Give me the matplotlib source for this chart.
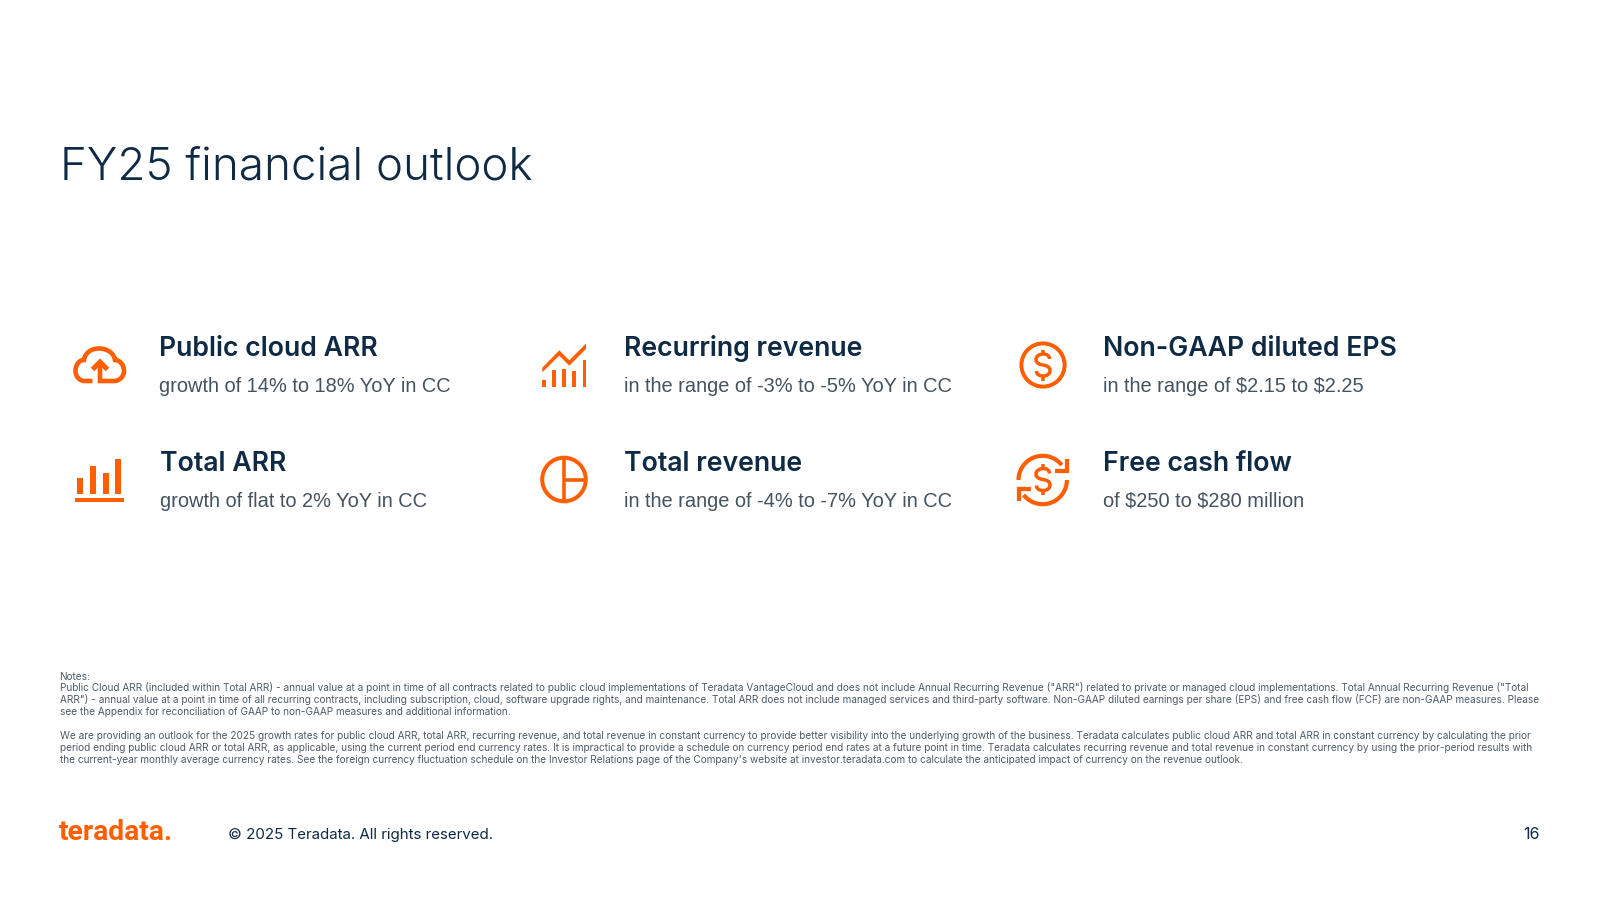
import numpy as np
import matplotlib
matplotlib.use("Agg")
import matplotlib.pyplot as plt
from matplotlib.path import Path
from matplotlib.patches import PathPatch, Rectangle, Circle, Polygon

plt.rcParams['font.family'] = ['Inter', 'DejaVu Sans']
plt.rcParams['text.parse_math'] = False

slide_title = "FY25 financial outlook"
metric_names = ["Public cloud ARR", "Recurring revenue", "Non-GAAP diluted EPS",
                "Total ARR", "Total revenue", "Free cash flow"]
metric_details = ["growth of 14% to 18% YoY in CC", "in the range of -3% to -5% YoY in CC",
                  "in the range of $2.15 to $2.25", "growth of flat to 2% YoY in CC",
                  "in the range of -4% to -7% YoY in CC", "of $250 to $280 million"]
notes = [
    "Notes:",
    "Public Cloud ARR (included within Total ARR) - annual value at a point in time of all contracts related to public cloud implementations of Teradata VantageCloud and does not include Annual Recurring Revenue (\"ARR\") related to private or managed cloud implementations. Total Annual Recurring Revenue (\"Total",
    "ARR\") - annual value at a point in time of all recurring contracts, including subscription, cloud, software upgrade rights, and maintenance. Total ARR does not include managed services and third-party software. Non-GAAP diluted earnings per share (EPS) and free cash flow (FCF) are non-GAAP measures. Please",
    "see the Appendix for reconciliation of GAAP to non-GAAP measures and additional information.",
    "",
    "We are providing an outlook for the 2025 growth rates for public cloud ARR, total ARR, recurring revenue, and total revenue in constant currency to provide better visibility into the underlying growth of the business. Teradata calculates public cloud ARR and total ARR in constant currency by calculating the prior",
    "period ending public cloud ARR or total ARR, as applicable, using the current period end currency rates. It is impractical to provide a schedule on currency period end rates at a future point in time. Teradata calculates recurring revenue and total revenue in constant currency by using the prior-period results with",
    "the current-year monthly average currency rates. See the foreign currency fluctuation schedule on the Investor Relations page of the Company's website at investor.teradata.com to calculate the anticipated impact of currency on the revenue outlook.",
]
logo_text = "teradata."
footer_text = "\u00a9 2025 Teradata. All rights reserved."
page_number = "16"

ORANGE = "#FF5F02"
NAVY = "#0E2A44"
GREY = "#44535F"
NOTE = "#4C5C6A"
PX = 0.72  # points per pixel at dpi 100

fig = plt.figure(figsize=(16, 9), dpi=100, facecolor="white")
ax = fig.add_axes([0, 0, 1, 1])
ax.set_xlim(0, 1600)
ax.set_ylim(900, 0)
ax.axis("off")

ax.text(60, 179.5, slide_title, fontsize=32.95, fontweight=300, color=NAVY, va="baseline")

name_x = [159, 624, 1103, 160, 624, 1103]
name_y = [356, 356, 356, 471, 471, 471]
detail_y = [392, 392, 392, 507, 507, 507]
for n, d, x, y1, y2 in zip(metric_names, metric_details, name_x, name_y, detail_y):
    ax.text(x, y1, n, fontsize=19.2, fontweight=600, color=NAVY, va="baseline")
    ax.text(x, y2, d, fontsize=14.4, color=GREY, va="baseline", family=["Liberation Sans"])

note_y = [679.5, 691, 703, 715, None, 739, 751, 763]
for line, y in zip(notes, note_y):
    if line:
        ax.text(59.5, y, line, fontsize=7.22, color=NOTE, va="baseline")

ax.text(59, 839.5, logo_text, fontsize=20.3, fontweight=700, color=ORANGE, va="baseline", family=["Roboto"])
ax.text(228.5, 839, footer_text, fontsize=10.85, color=NAVY, va="baseline")
ax.text(1540, 839, page_number, fontsize=11.5, color=NAVY, va="baseline", ha="right")


def stroke(verts, codes=None, lw=4.0, cap="butt", join="miter"):
    ax.add_patch(PathPatch(Path(verts, codes), fc="none", ec=ORANGE, lw=lw * PX,
                           capstyle=cap, joinstyle=join))


def curve_path(start, segs):
    v, c = [start], [Path.MOVETO]
    for s in segs:
        if len(s) == 1:
            v += s
            c += [Path.LINETO]
        else:
            v += s
            c += [Path.CURVE4] * 3
    return v, c


def ring(cx, cy, r, lw=4.0):
    ax.add_patch(Circle((cx, cy), r, fc="none", ec=ORANGE, lw=lw * PX))


def dollar(cx, cy, lw=3.5):
    segs = [[(cx + 6.5, cy - 9.5), (cx + 3.5, cy - 11), (cx + 0.5, cy - 11)],
            [(cx - 4, cy - 11), (cx - 7, cy - 8.5), (cx - 7, cy - 5.5)],
            [(cx - 7, cy - 1.5), (cx - 3, cy - 0.5), (cx, cy)],
            [(cx + 3, cy + 0.5), (cx + 7, cy + 1.5), (cx + 7, cy + 5.5)],
            [(cx + 7, cy + 9), (cx + 4, cy + 11), (cx, cy + 11)],
            [(cx - 3.5, cy + 11), (cx - 6.5, cy + 9.5), (cx - 6.5, cy + 6)]]
    v, c = curve_path((cx + 6.5, cy - 6), segs)
    stroke(v, c, lw=lw)
    stroke([(cx, cy - 15.5), (cx, cy - 10.5)], lw=lw)
    stroke([(cx, cy + 10.5), (cx, cy + 15.5)], lw=lw)


# cloud upload icon
v, c = curve_path((92.5, 381), [
    [(85, 381)],
    [(79, 381), (75.5, 376), (75.5, 371)],
    [(75.5, 365), (79, 360), (84, 360)],
    [(85, 353), (91, 348.5), (99, 348.5)],
    [(107, 348.5), (114, 353), (115, 360)],
    [(120, 360), (124, 365), (124, 371)],
    [(124, 376), (120, 381), (114, 381)],
    [(100, 381)],
    [(100, 364)],
])
stroke(v, c, lw=4.6)
stroke([(92.5, 369.5), (100, 362), (107.5, 369.5)], lw=5)

# bar chart icon
bar_left = [77.3, 90, 102.7, 115.3]
bar_top = [478.3, 466, 473.3, 458.7]
for x, t in zip(bar_left, bar_top):
    ax.add_patch(Rectangle((x, t), 6, 494.3 - t, fc=ORANGE, ec="none"))
ax.add_patch(Rectangle((75, 498.3), 49, 3.6, fc=ORANGE, ec="none"))

# trend icon
ax.add_patch(Polygon([(542.3, 367.7), (559.3, 350.3), (569.3, 360.3), (586, 343.5),
                      (586, 349), (569.3, 365.7), (559.3, 355.7), (542.3, 372.3)],
                     closed=True, fc=ORANGE, ec="none"))
trend_left = [542.3, 552.3, 562.3, 572.3, 582.7]
trend_top = [380, 370, 368.5, 371, 360]
for x, t in zip(trend_left, trend_top):
    ax.add_patch(Rectangle((x, t), 3.4, 387.3 - t, fc=ORANGE, ec="none"))

# pie icon
ring(564, 479.5, 21.8)
stroke([(564, 458), (564, 501)], lw=3.6)
stroke([(564, 479.5), (586, 479.5)], lw=3.6)

# dollar icon
ring(1043, 365, 21.6)
dollar(1043, 365)

# refresh dollar icon
t1 = np.radians(np.linspace(180, 38, 40))
stroke(np.c_[1042.7 + 24.2 * np.cos(t1), 480 - 24.2 * np.sin(t1)], lw=4.2)
t2 = np.radians(np.linspace(0, -142, 40))
stroke(np.c_[1042.7 + 24.2 * np.cos(t2), 480 - 24.2 * np.sin(t2)], lw=4.2)
stroke([(1067, 458.5), (1067, 470.5), (1055, 470.5)], lw=4.2)
stroke([(1019, 500.5), (1019, 489), (1031, 489)], lw=4.2)
dollar(1043, 479.5)

fig.savefig("out.png", dpi=100, facecolor="white")
